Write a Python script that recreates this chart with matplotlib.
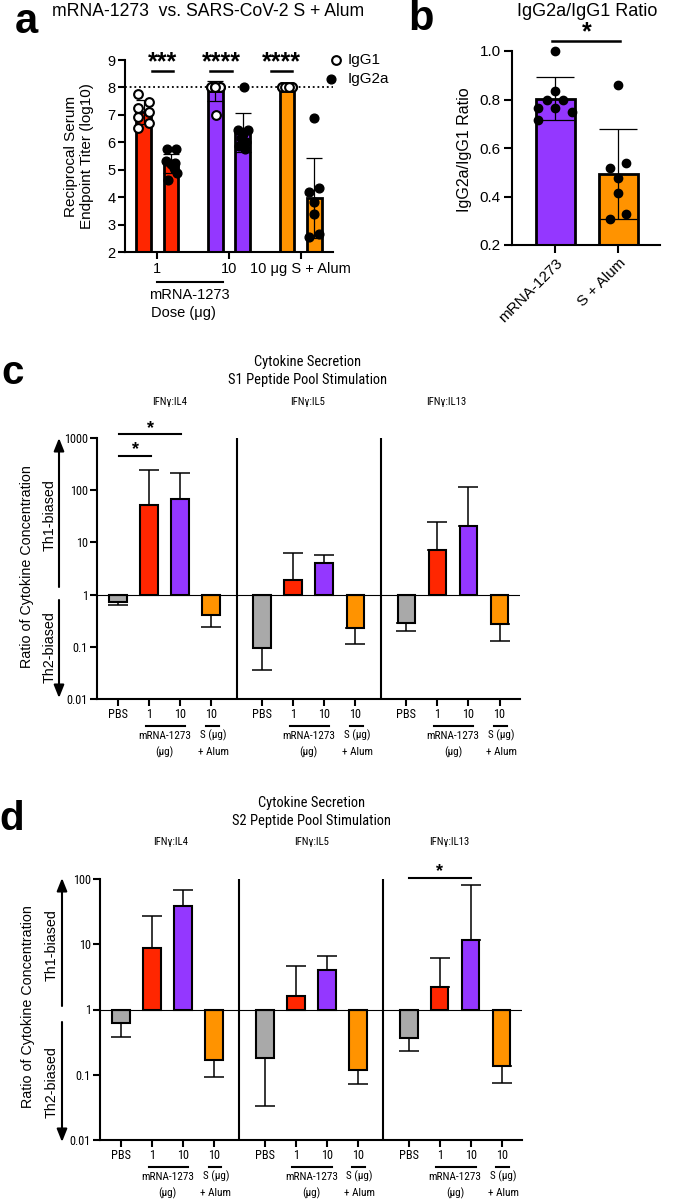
import numpy as np
import matplotlib
matplotlib.use('Agg')
import matplotlib.pyplot as plt
from matplotlib import font_manager
from matplotlib.patches import FancyArrowPatch

# ---- data ----
# panel a: endpoint titers (log10)
a_groups = ['1', '10', '10 μg S + Alum']
a_colors = ['#FF2600', '#9437FF', '#FF9300']
igg1_mean = [7.10, 7.87, 8.00]
igg1_sd = [0.44, 0.35, 0.0]
igg2a_mean = [5.22, 6.37, 3.97]
igg2a_sd = [0.35, 0.71, 1.46]
igg1_pts = [[7.75, 7.48, 7.26, 7.09, 6.91, 6.69, 6.51],
            [8.0, 8.0, 8.0, 8.0, 8.0, 8.0, 8.0, 7.0],
            [8.0, 8.0, 8.0, 8.0, 8.0, 8.0, 8.0, 8.0]]
igg1_dx = [[-0.08, 0.07, -0.08, 0.07, -0.08, 0.07, -0.08],
           [-0.065, 0.0, 0.065, -0.065, 0.0, 0.065, 0.0, 0.015],
           [-0.065, 0.0, 0.065, -0.065, 0.0, 0.065, -0.03, 0.03]]
igg2a_pts = [[5.74, 5.74, 5.30, 5.25, 5.20, 5.05, 4.88, 4.62],
             [8.0, 6.45, 6.45, 6.30, 6.15, 6.00, 5.85, 5.75],
             [6.87, 4.19, 4.34, 3.83, 3.38, 2.55, 2.65]]
igg2a_dx = [[-0.05, 0.07, -0.07, 0.06, 0.0, 0.05, 0.08, -0.04],
            [0.02, -0.07, 0.07, 0.0, -0.02, 0.05, -0.05, 0.04],
            [0.0, -0.08, 0.07, 0.0, 0.0, -0.08, 0.07]]
a_sig = [('***', -0.07, 0.22), ('****', 0.74, 1.04), ('****', 1.58, 1.875)]

# panel b: IgG2a/IgG1 ratio
b_groups = ['mRNA-1273', 'S + Alum']
b_colors = ['#9437FF', '#FF9300']
ratio_mean = [0.803, 0.492]
ratio_sd = [0.088, 0.185]
ratio_pts = [[1.0, 0.834, 0.797, 0.80, 0.763, 0.763, 0.749, 0.715],
             [0.859, 0.519, 0.540, 0.478, 0.416, 0.327, 0.308]]
ratio_dx = [[0.0, 0.0, -0.14, 0.125, -0.27, 0.0, 0.26, -0.27],
            [0.0, -0.13, 0.12, 0.0, 0.0, 0.12, -0.13]]

# panels c/d: cytokine ratios (bar value, end of error bar)
cyto_groups = ['PBS', '1', '10', '10']
cyto_colors = ['#A9A9A9', '#FF2600', '#9437FF', '#FF9300']
cyto_names = ['IFNγ:IL4', 'IFNγ:IL5', 'IFNγ:IL13']
s1_il4 = [0.73, 51, 69, 0.41]
s1_il4_err = [0.62, 247, 209, 0.24]
s1_il5 = [0.093, 1.94, 4.1, 0.23]
s1_il5_err = [0.036, 6.3, 5.8, 0.115]
s1_il13 = [0.286, 7.3, 21, 0.27]
s1_il13_err = [0.20, 25, 114, 0.128]
s2_il4 = [0.625, 8.8, 38, 0.166]
s2_il4_err = [0.377, 27, 69, 0.094]
s2_il5 = [0.18, 1.6, 4.1, 0.119]
s2_il5_err = [0.033, 4.7, 6.5, 0.073]
s2_il13 = [0.37, 2.25, 11.8, 0.136]
s2_il13_err = [0.23, 6.2, 81, 0.076]
# significance: (subpanel, group from, group to, y)
s1_sig = [(0, 0.03, 1.06, 460), (0, 0.03, 2.03, 1170)]
s2_sig = [(2, 0.0, 2.02, 105)]

# ---- fonts ----
plt.rcParams['font.family'] = ['Liberation Sans', 'DejaVu Sans']
names = {f.name for f in font_manager.fontManager.ttflist}
NARROW = 'Liberation Sans'
for cand in ['Roboto Condensed', 'Archivo Narrow', 'PT Sans Narrow',
             'Liberation Sans Narrow', 'Barlow Semi Condensed']:
    if cand in names:
        NARROW = cand
        break
NF = [NARROW, 'Liberation Sans', 'DejaVu Sans']

W, H = 680, 1199
fig = plt.figure(figsize=(W / 100, H / 100), dpi=100)

# size the condensed font so its widths match the reference
_t = fig.text(0, 0, 'S1 Peptide Pool Stimulation', family=NF, fontsize=11.2)
_w = _t.get_window_extent(renderer=fig.canvas.get_renderer()).width
_t.remove()
nscale = 158 / _w


def fx(x):
    return x / W


def fy(y):
    return 1 - y / H


def add_ax(l, t, r, b):
    return fig.add_axes([l / W, 1 - b / H, (r - l) / W, (b - t) / H])


def style(ax, lw=1.5):
    for s in ['top', 'right']:
        ax.spines[s].set_visible(False)
    for s in ['left', 'bottom']:
        ax.spines[s].set_linewidth(lw)


# ---------------- panel a ----------------
ax = add_ax(125, 60, 333, 252)
x = np.arange(3)
off, bw = 0.19, 0.2
ax.axhline(8, color='k', lw=1.3, ls=(0, (1, 1.6)), zorder=1)
ax.bar(x - off, igg1_mean, bw, color=a_colors, edgecolor='k', lw=2, zorder=2)
ax.bar(x + off, igg2a_mean, bw, color=a_colors, edgecolor='k', lw=2, zorder=2)
ax.errorbar(x - off, igg1_mean, yerr=igg1_sd, fmt='none', ecolor='k',
            elinewidth=0.9, capsize=6, capthick=0.9, zorder=3)
ax.errorbar(x + off, igg2a_mean, yerr=igg2a_sd, fmt='none', ecolor='k',
            elinewidth=0.9, capsize=6, capthick=0.9, zorder=3)
for i in range(3):
    ax.plot(x[i] - off + np.array(igg1_dx[i]), igg1_pts[i], 'o', ms=6.3,
            mfc='white', mec='k', mew=1.5, zorder=4, clip_on=False)
    ax.plot(x[i] + off + np.array(igg2a_dx[i]), igg2a_pts[i], 'o', ms=6.3,
            mfc='k', mec='k', zorder=4, clip_on=False)
for stars, x1, x2 in a_sig:
    ax.plot([x1, x2], [8.6, 8.6], color='k', lw=1.8, clip_on=False)
    ax.annotate(stars, xy=((x1 + x2) / 2, 8.6), xytext=(0, 1.5),
                textcoords='offset points', ha='center', va='baseline',
                fontsize=18, fontweight='bold', annotation_clip=False)
ax.set_ylim(2, 9)
ax.set_yticks(range(2, 10))
ax.set_xlim(-0.45, 2.45)
ax.set_xticks(x, a_groups)
style(ax)
ax.tick_params(width=1.5, length=5, labelsize=10.5, pad=2)
tr = ax.get_xaxis_transform()
ax.plot([0, 0.91], [-0.156, -0.156], color='k', lw=1.5, transform=tr, clip_on=False)
ax.text(0.45, -0.224, 'mRNA-1273', transform=tr, ha='center', va='center', fontsize=10.5)
ax.text(0.36, -0.318, 'Dose (μg)', transform=tr, ha='center', va='center', fontsize=10.5)
fig.text(fx(79), fy(156), 'Reciprocal Serum\nEndpoint Titer (log10)', rotation=90,
         ha='center', va='center', fontsize=11, linespacing=1.25)
fig.text(fx(52), fy(11), 'mRNA-1273  vs. SARS-CoV-2 S + Alum', ha='left',
         va='center', fontsize=12.7)
# legend
fig.add_artist(plt.Line2D([fx(336)], [fy(60)], marker='o', ms=6.3, mfc='white',
                          mec='k', mew=1.5, transform=fig.transFigure))
fig.add_artist(plt.Line2D([fx(331)], [fy(79)], marker='o', ms=6.3, mfc='k',
                          mec='k', transform=fig.transFigure))
fig.text(fx(348), fy(60), 'IgG1', ha='left', va='center', fontsize=11)
fig.text(fx(348), fy(79), 'IgG2a', ha='left', va='center', fontsize=11)

# ---------------- panel b ----------------
ax = add_ax(512, 51, 660, 245)
xb = np.arange(2)
ax.bar(xb, ratio_mean, 0.62, color=b_colors, edgecolor='k', lw=2, zorder=2)
ax.errorbar(xb, ratio_mean, yerr=ratio_sd, fmt='none', ecolor='k',
            elinewidth=0.9, capsize=14, capthick=0.9, zorder=3)
for i in range(2):
    ax.plot(xb[i] + np.array(ratio_dx[i]), ratio_pts[i], 'o', ms=6, mfc='k',
            mec='k', zorder=4, clip_on=False)
ax.plot([-0.056, 1.03], [1.041, 1.041], color='k', lw=1.8, clip_on=False)
ax.annotate('*', xy=(0.49, 1.041), xytext=(0, 1.5), textcoords='offset points',
            ha='center', va='baseline', fontsize=18, fontweight='bold',
            annotation_clip=False)
ax.set_ylim(0.2, 1.0)
ax.set_yticks([0.2, 0.4, 0.6, 0.8, 1.0], ['0.2', '0.4', '0.6', '0.8', '1.0'])
ax.set_xlim(-0.69, 1.66)
ax.set_xticks(xb, b_groups, rotation=45, ha='right', rotation_mode='anchor')
style(ax)
ax.tick_params(width=1.5, length=6, labelsize=11, pad=2)
fig.text(fx(465), fy(150), 'IgG2a/IgG1 Ratio', rotation=90, ha='center',
         va='center', fontsize=11.5)
fig.text(fx(587), fy(11), 'IgG2a/IgG1 Ratio', ha='center', va='center', fontsize=13)

# panel letters
for lab, px, py, fs in [('a', 26, 22, 30), ('b', 421, 19, 30), ('c', 13, 373, 29), ('d', 12, 819, 29)]:
    fig.text(fx(px), fy(py), lab, ha='center', va='center', fontsize=fs, fontweight='bold')

# ---------------- panels c / d ----------------
seg = 4.645


def cyto_panel(ax, vals, errs, sig, ymax):
    for k in range(3):
        xs = k * seg + np.arange(4)
        v = np.array(vals[k], dtype=float)
        e = np.array(errs[k], dtype=float)
        ax.bar(xs, v - 1, bottom=1, width=0.57, color=cyto_colors, edgecolor='k',
               lw=1.5, zorder=2)
        lo = np.where(v < 1, v - e, 0)
        hi = np.where(v > 1, e - v, 0)
        ax.errorbar(xs, v, yerr=[lo, hi], fmt='none', ecolor='k', elinewidth=1.1,
                    capsize=7.5, capthick=1.1, zorder=1)
    ax.axhline(1, color='k', lw=0.8, zorder=3)
    for k in (1, 2):
        ax.axvline(k * seg - (seg - 3) / 2, color='k', lw=1.5)
    ax.set_yscale('log')
    ax.set_ylim(0.01, ymax)
    ticks = [t for t in [0.01, 0.1, 1, 10, 100, 1000] if t <= ymax]
    ax.set_yticks(ticks, [('%g' % t) for t in ticks], family=NF, fontsize=9.5 * nscale)
    ax.yaxis.set_minor_locator(matplotlib.ticker.NullLocator())
    xs_all = [k * seg + j for k in range(3) for j in range(4)]
    ax.set_xticks(xs_all, cyto_groups + cyto_groups + cyto_groups, family=NF,
                  fontsize=9.5 * nscale)
    ax.set_xlim(-0.68, 12.95)
    style(ax)
    ax.tick_params(width=1.5, length=5, pad=1.5)
    tr = ax.get_xaxis_transform()
    for k in range(3):
        b0 = k * seg
        ax.plot([b0 + 0.89, b0 + 2.16], [-0.103, -0.103], color='k', lw=1.5,
                transform=tr, clip_on=False)
        ax.plot([b0 + 2.83, b0 + 3.24], [-0.103, -0.103], color='k', lw=1.5,
                transform=tr, clip_on=False)
        ax.text(b0 + 1.5, -0.14, 'mRNA-1273', transform=tr, ha='center', va='center',
                family=NF, fontsize=8.7 * nscale)
        ax.text(b0 + 1.5, -0.203, '(μg)', transform=tr, ha='center', va='center',
                family=NF, fontsize=8.7 * nscale)
        ax.text(b0 + 3.06, -0.14, 'S (μg)', transform=tr, ha='center', va='center',
                family=NF, fontsize=8.7 * nscale)
        ax.text(b0 + 3.06, -0.203, '+ Alum', transform=tr, ha='center', va='center',
                family=NF, fontsize=8.7 * nscale)
    for k, g1, g2, yv in sig:
        ax.plot([k * seg + g1, k * seg + g2], [yv, yv], color='k', lw=1.5, clip_on=False)
        ax.annotate('*', xy=(k * seg + (g1 + g2) / 2, yv), xytext=(0, 1),
                    textcoords='offset points', ha='center', va='baseline',
                    fontsize=13, fontweight='bold', annotation_clip=False)


def side_labels(ylab_y, th1_y, th2_y, xl, xb_, xa, a_top, a_mid1, a_mid2, a_bot):
    fig.text(fx(xl), fy(ylab_y), 'Ratio of Cytokine Concentration', rotation=90,
             ha='center', va='center', fontsize=10.3)
    fig.text(fx(xb_), fy(th1_y), 'Th1-biased', rotation=90, ha='center', va='center',
             fontsize=10.3)
    fig.text(fx(xb_), fy(th2_y), 'Th2-biased', rotation=90, ha='center', va='center',
             fontsize=10.3)
    for p0, p1 in [(a_mid1, a_top), (a_mid2, a_bot)]:
        fig.add_artist(FancyArrowPatch((fx(xa), fy(p0)), (fx(xa), fy(p1)),
                                       transform=fig.transFigure,
                                       arrowstyle='-|>,head_width=0.22,head_length=0.55',
                                       mutation_scale=14, lw=1.5, color='k',
                                       shrinkA=0, shrinkB=0))


# panel c
ax = add_ax(97, 438, 520, 699)
cyto_panel(ax, [s1_il4, s1_il5, s1_il13], [s1_il4_err, s1_il5_err, s1_il13_err],
           s1_sig, 1000)
fig.text(fx(308), fy(362), 'Cytokine Secretion', ha='center', va='center',
         family=NF, fontsize=11.2 * nscale)
fig.text(fx(308), fy(380), 'S1 Peptide Pool Stimulation', ha='center', va='center',
         family=NF, fontsize=11.2 * nscale)
for nm, px in zip(cyto_names, [170, 308, 446]):
    fig.text(fx(px), fy(402), nm, ha='center', va='center', family=NF,
             fontsize=8.3 * nscale)
side_labels(567, 515, 647, 27, 50, 59, 438, 587, 600, 698)

# panel d
ax = add_ax(100, 879, 522, 1140)
cyto_panel(ax, [s2_il4, s2_il5, s2_il13], [s2_il4_err, s2_il5_err, s2_il13_err],
           s2_sig, 100)
fig.text(fx(312), fy(803), 'Cytokine Secretion', ha='center', va='center',
         family=NF, fontsize=11.2 * nscale)
fig.text(fx(312), fy(821), 'S2 Peptide Pool Stimulation', ha='center', va='center',
         family=NF, fontsize=11.2 * nscale)
for nm, px in zip(cyto_names, [171, 312, 449]):
    fig.text(fx(px), fy(842), nm, ha='center', va='center', family=NF,
             fontsize=8.3 * nscale)
side_labels(1007, 945, 1082, 28, 52, 62, 878, 1006, 1022, 1142)

fig.savefig('out.png', dpi=100)
